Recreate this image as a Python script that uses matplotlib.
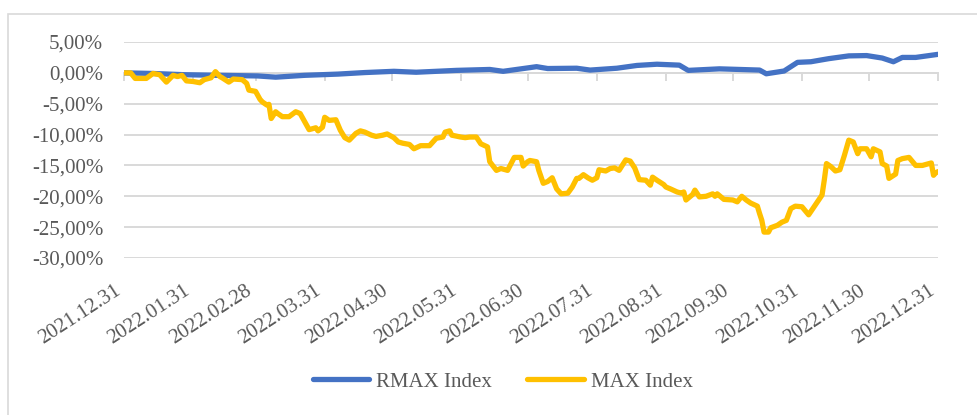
import numpy as np
import pandas as pd
import matplotlib
matplotlib.use("Agg")
from matplotlib import pyplot as plt
from matplotlib import dates as mdates
from matplotlib.ticker import FuncFormatter
from matplotlib.patches import Rectangle

# data: days since 2021.12.31 and cumulative return (%)
start = pd.Timestamp("2021-12-31")

rmax_days = [0, 13, 27, 42, 60, 68, 81, 96, 108, 121, 131, 149, 164, 170, 185, 190,
             203, 209, 221, 230, 239, 249, 253, 267, 285, 288, 296, 302, 308, 316,
             325, 333, 340, 345, 349, 355, 365]
rmax_vals = [0.0, -0.1, -0.3, -0.4, -0.5, -0.7, -0.4, -0.2, 0.05, 0.25, 0.1, 0.4, 0.55, 0.25,
             1.0, 0.7, 0.75, 0.45, 0.75, 1.2, 1.4, 1.25, 0.4, 0.65, 0.45, -0.15, 0.3, 1.7,
             1.8, 2.3, 2.75, 2.8, 2.4, 1.8, 2.5, 2.5, 3.0]

max_days = [0, 3, 5, 10, 13, 16, 19, 22, 24, 26, 28, 31, 34, 36, 39, 41, 43, 44, 47, 49,
            53, 55, 56, 59, 61, 62, 64, 65, 66, 68, 69, 71, 74, 77, 79, 81, 83, 86, 87, 89,
            90, 92, 95, 97, 99, 101, 104, 106, 108, 111, 113, 116, 118, 121, 123, 125, 128,
            130, 133, 137, 140, 143, 144, 146, 147, 151, 153, 155, 158, 160, 163, 164, 167,
            169, 172, 175, 178, 179, 181, 182, 185, 186, 188, 190, 192, 194, 196, 199, 201,
            203, 204, 206, 208, 210, 212, 213, 216, 218, 220, 222, 225, 227, 229, 231, 234,
            236, 237, 239, 242, 243, 245, 248, 250, 251, 252, 255, 256, 258, 261, 264, 265,
            266, 269, 273, 275, 277, 279, 281, 284, 285, 286, 287, 289, 290, 293, 295, 297,
            299, 301, 304, 307, 310, 313, 314, 315, 317, 319, 321, 323, 325, 327, 329, 330,
            333, 335, 336, 339, 340, 342, 343, 346, 347, 349, 352, 355, 358, 362, 363, 364, 365]
max_vals = [0.0, 0.0, -0.9, -0.9, -0.1, -0.3, -1.5, -0.4, -0.6, -0.4, -1.3, -1.4, -1.6, -1.1,
            -0.8, 0.2, -0.6, -0.8, -1.5, -1.0, -1.1, -1.7, -2.8, -3.0, -4.3, -4.7, -5.2, -5.1,
            -7.4, -6.3, -6.6, -7.1, -7.1, -6.3, -6.6, -7.9, -9.2, -8.9, -9.4, -8.8, -7.2, -7.7,
            -7.6, -9.3, -10.5, -10.9, -9.8, -9.4, -9.6, -10.1, -10.3, -10.1, -9.9, -10.5, -11.2,
            -11.4, -11.6, -12.3, -11.8, -11.8, -10.6, -10.4, -9.6, -9.4, -10.1, -10.4, -10.5,
            -10.4, -10.4, -11.5, -12.0, -14.4, -15.8, -15.5, -15.8, -13.7, -13.7, -15.1, -14.4,
            -14.2, -14.4, -15.8, -17.9, -17.6, -17.0, -18.8, -19.6, -19.5, -18.5, -17.1, -17.1,
            -16.5, -17.0, -17.4, -17.0, -15.7, -15.9, -15.5, -15.4, -15.8, -14.1, -14.3, -15.4,
            -17.3, -17.4, -18.2, -16.9, -17.4, -18.1, -18.5, -18.8, -19.3, -19.5, -19.3, -20.6,
            -19.7, -19.0, -20.1, -20.0, -19.6, -20.0, -19.6, -20.5, -20.6, -20.9, -20.0, -20.6,
            -21.1, -21.6, -22.8, -23.9, -25.8, -25.8, -25.1, -24.7, -24.2, -23.9, -22.0, -21.6,
            -21.7, -23.0, -21.4, -19.8, -17.4, -14.7, -15.2, -15.9, -15.7, -13.4, -10.9, -11.2,
            -13.1, -12.3, -12.3, -13.6, -12.3, -12.8, -14.7, -15.1, -17.1, -16.4, -14.2, -13.9,
            -13.7, -15.0, -15.0, -14.6, -16.6, -16.2, -16.0]

rmax_dates = start + pd.to_timedelta(rmax_days, unit="D")
max_dates = start + pd.to_timedelta(max_days, unit="D")

plt.rcParams["font.family"] = ["Liberation Serif", "DejaVu Serif"]
grid_c = "#d9d9d9"
text_c = "#595959"

fig = plt.figure(figsize=(9.78, 4.15), dpi=100)
ax = fig.add_axes([124 / 978, 1 - 258 / 415, (938 - 124) / 978, (258 - 42) / 415])

ax.plot(rmax_dates, rmax_vals, color="#4472C4", lw=3.8, solid_capstyle="round",
        solid_joinstyle="round", label="RMAX Index", zorder=3)
ax.plot(max_dates, max_vals, color="#FFC000", lw=3.8, solid_capstyle="round",
        solid_joinstyle="round", label="MAX Index", zorder=4)

ax.set_ylim(-30, 5)
ax.set_yticks(np.arange(-30, 5.1, 5))
ax.yaxis.set_major_formatter(FuncFormatter(lambda v, p: f"{v:.2f}%".replace(".", ",")))
ax.set_xlim(start, pd.Timestamp("2022-12-31"))
month_ends = pd.date_range("2021-12-31", "2022-12-31", freq="ME")
ax.set_xticks(month_ends)
ax.xaxis.set_major_formatter(mdates.DateFormatter("%Y.%m.%d"))

ax.grid(axis="y", color=grid_c, lw=1.4)
ax.set_axisbelow(True)
for s in ax.spines.values():
    s.set_visible(False)
ax.tick_params(axis="y", length=0, pad=15, labelsize=15, labelcolor=text_c)
ax.tick_params(axis="x", length=0, pad=17, labelsize=15, labelcolor=text_c)
for lab in ax.get_xticklabels():
    lab.set_rotation(33)
    lab.set_ha("right")
    lab.set_va("top")

# horizontal axis line at 0 with tick marks
sec = ax.secondary_xaxis(0, transform=ax.transData)
sec.set_xticks(month_ends)
sec.tick_params(axis="x", length=6, width=1.4, color=grid_c, labelbottom=False)
sec.spines["bottom"].set_color(grid_c)
sec.spines["bottom"].set_linewidth(1.4)

fig.legend(loc="center", bbox_to_anchor=(0.514, 1 - 382 / 415), ncol=2, frameon=False,
           fontsize=15, labelcolor=text_c, handlelength=2.7, handletextpad=0.35,
           columnspacing=1.7)

fig.patches.append(Rectangle((8 / 978, -0.5), 2, 0.5 + 1 - 14 / 415, transform=fig.transFigure,
                             fill=False, ec=grid_c, lw=1.2))

fig.savefig("out.png", dpi=100)
